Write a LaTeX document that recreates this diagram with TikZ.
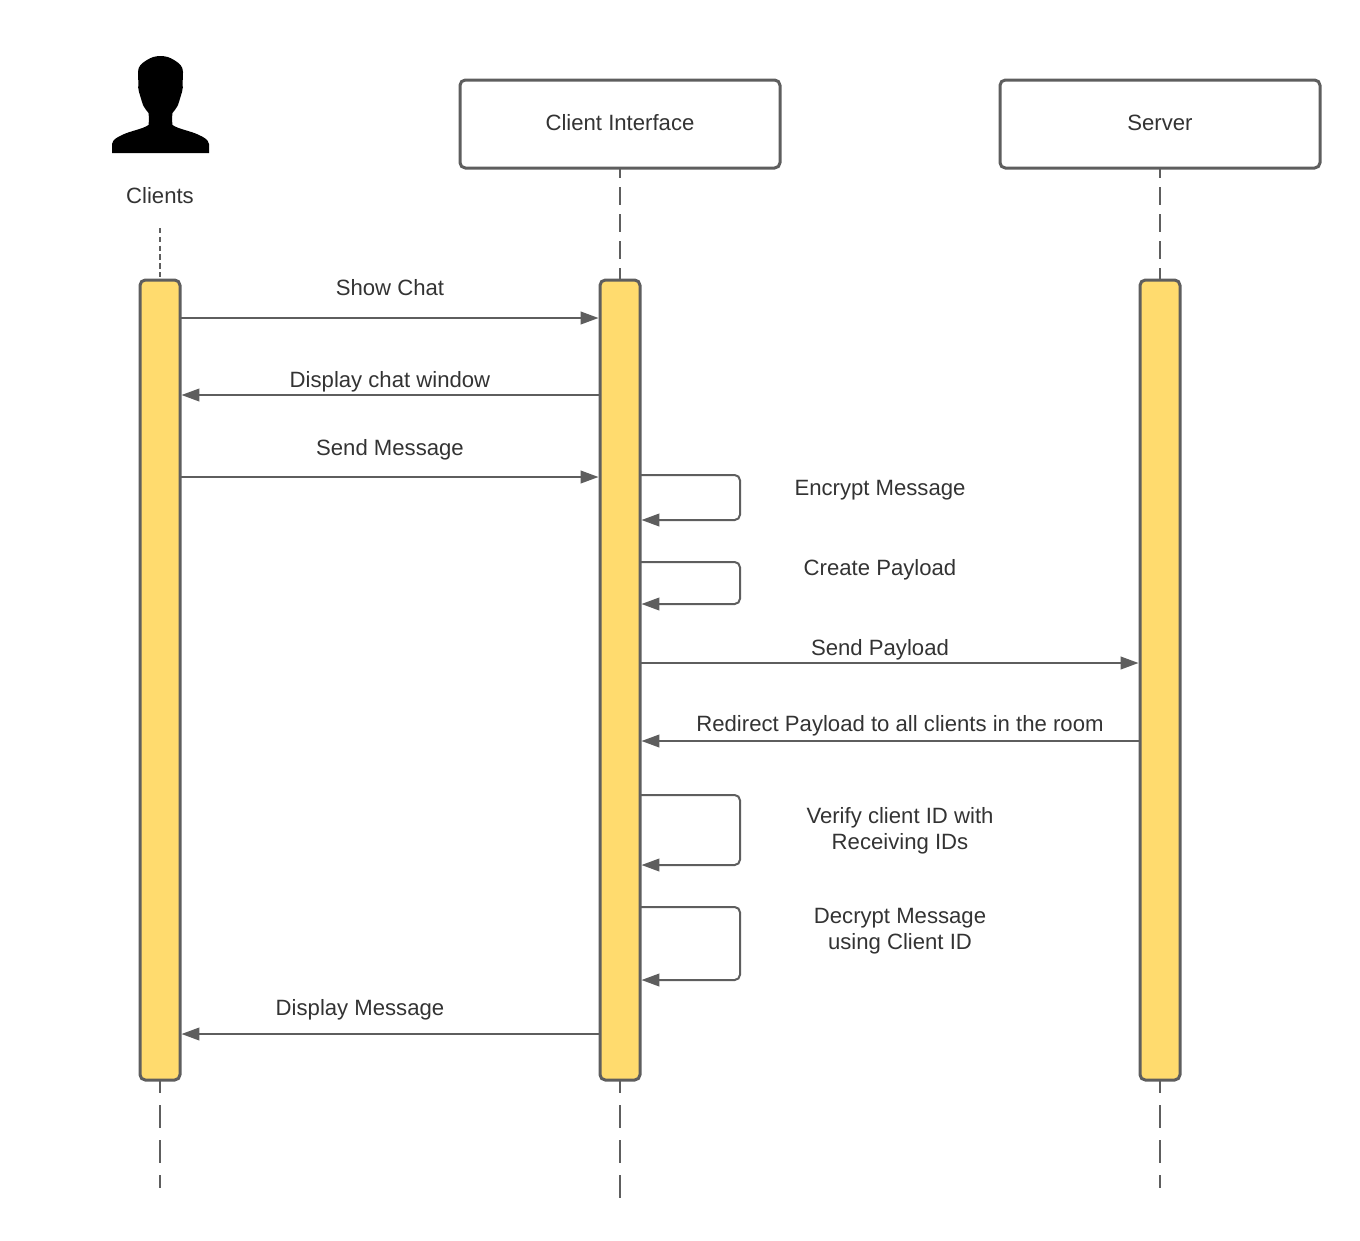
\documentclass[tikz,border=0pt]{standalone}
\usepackage{fontspec}
\setmainfont{Liberation Sans}
\usetikzlibrary{arrows.meta}
\definecolor{linegray}{HTML}{5E5E5E}
\definecolor{bargold}{HTML}{FFDB6E}
\definecolor{txt}{HTML}{333333}
\newcommand{\msgsize}{\fontsize{16.6pt}{19.5pt}\selectfont}
\tikzset{
  headbox/.style={draw=linegray,line width=2.25pt,rounded corners=4pt,fill=white,minimum width=240pt,minimum height=66pt,outer sep=0pt,text=txt,font=\msgsize},
  activation/.style={draw=linegray,line width=2.25pt,rounded corners=4pt,fill=bargold,minimum width=30pt,minimum height=600pt,outer sep=0pt,inner sep=0pt},
  lifelong/.style={draw=linegray,line width=1.4pt,dash pattern=on 17.25pt off 9pt,dash phase=7.5pt},
  lifemid/.style={draw=linegray,line width=1.4pt,dash pattern=on 13.5pt off 6.75pt,dash phase=6pt},
  lifeshort/.style={draw=linegray,line width=1.4pt,dash pattern=on 4pt off 2.6pt},
  msg/.style={draw=linegray,line width=1.5pt,-{Triangle[length=13.5pt,width=9.5pt]},shorten >=1.1pt,rounded corners=4pt},
  lbl/.style={text=txt,font=\msgsize,align=center,inner sep=0pt},
}
\begin{document}
\begin{tikzpicture}[x=0.75pt,y=-0.75pt]
\useasboundingbox (0,0) rectangle (1360,1240);
% lifeline ends
\coordinate (clientsTop) at (160,228);
\coordinate (clientsEnd) at (160,1188);
\coordinate (ifaceEnd) at (620,1200);
\coordinate (serverEnd) at (1160,1188);
% activation bars
\node[activation] (barC) at (160,680) {};
\node[activation] (barI) at (620,680) {};
\node[activation] (barS) at (1160,680) {};
% heads
\node[headbox] (iface) at (620,124) {\raisebox{2.2pt}{Client Interface}};
\node[headbox] (server) at (1160,124) {\raisebox{2.2pt}{Server}};
\node[lbl] (clients) at (160,196) {Clients};
% person icon
\fill[black] (112,153) -- (112,144)
  .. controls (113,139) and (118,137) .. (122,135)
  .. controls (130,131) and (143,129) .. (148.5,125)
  .. controls (149,121) and (149,117) .. (148.5,113)
  .. controls (146,110) and (144,107) .. (143,105)
  .. controls (141,99) and (140,95) .. (139,92)
  .. controls (138,89) and (138,86) .. (138.5,83)
  .. controls (138,78) and (138,74) .. (138,72)
  .. controls (138,66) and (142,63) .. (147,60)
  .. controls (151,57.5) and (155,56) .. (160.5,56)
  .. controls (166,56) and (170,57.5) .. (174,60)
  .. controls (179,63) and (183,66) .. (183,72)
  .. controls (183,74) and (183,78) .. (182.5,83)
  .. controls (183,86) and (183,89) .. (182,92)
  .. controls (181,95) and (180,99) .. (178,105)
  .. controls (177,107) and (175,110) .. (172.5,113)
  .. controls (172,117) and (172,121) .. (172.5,125)
  .. controls (178,129) and (191,131) .. (199,135)
  .. controls (203,137) and (208,139) .. (209,144)
  -- (209,153) -- cycle;
% lifelines
\draw[lifeshort] (clientsTop) -- (barC.north);
\draw[lifelong] (barC.south) -- (clientsEnd);
\draw[lifemid] (iface.south) -- (barI.north);
\draw[lifelong] (barI.south) -- (ifaceEnd);
\draw[lifemid] (server.south) -- (barS.north);
\draw[lifelong] (barS.south) -- (serverEnd);
% message rows
\coordinate (m1) at (0,318);
\coordinate (m2) at (0,395);
\coordinate (m3) at (0,477);
\coordinate (m4) at (0,663);
\coordinate (m5) at (0,741);
\coordinate (m6) at (0,1034);
\draw[msg] (barC.east |- m1) -- (barI.west |- m1);
\draw[msg] (barI.west |- m2) -- (barC.east |- m2);
\draw[msg] (barC.east |- m3) -- (barI.west |- m3);
\draw[msg] (barI.east |- m4) -- (barS.west |- m4);
\draw[msg] (barS.west |- m5) -- (barI.east |- m5);
\draw[msg] (barI.west |- m6) -- (barC.east |- m6);
% self loops
\coordinate (a1) at (740,475); \coordinate (b1) at (740,520);
\coordinate (a2) at (740,562); \coordinate (b2) at (740,604);
\coordinate (a3) at (740,795); \coordinate (b3) at (740,865);
\coordinate (a4) at (740,907); \coordinate (b4) at (740,980);
\draw[msg] (barI.east |- a1) -- (a1) -- (b1) -- (barI.east |- b1);
\draw[msg] (barI.east |- a2) -- (a2) -- (b2) -- (barI.east |- b2);
\draw[msg] (barI.east |- a3) -- (a3) -- (b3) -- (barI.east |- b3);
\draw[msg] (barI.east |- a4) -- (a4) -- (b4) -- (barI.east |- b4);
% labels
\node[lbl] (t1) at (390,288) {Show Chat};
\node[lbl] (t2) at (390,382) {Display chat window};
\node[lbl] (t3) at (390,450) {Send Message};
\node[lbl] (t4) at (880,490) {Encrypt Message};
\node[lbl] (t5) at (880,570) {Create Payload};
\node[lbl] (t6) at (880,650) {Send Payload};
\node[lbl] (t7) at (900,726) {Redirect Payload to all clients in the room};
\node[lbl] (t8) at (900,831) {Verify client ID with\\Receiving IDs};
\node[lbl] (t9) at (900,931) {Decrypt Message\\using Client ID};
\node[lbl] (t10) at (360,1010) {Display Message};
\end{tikzpicture}
\end{document}
